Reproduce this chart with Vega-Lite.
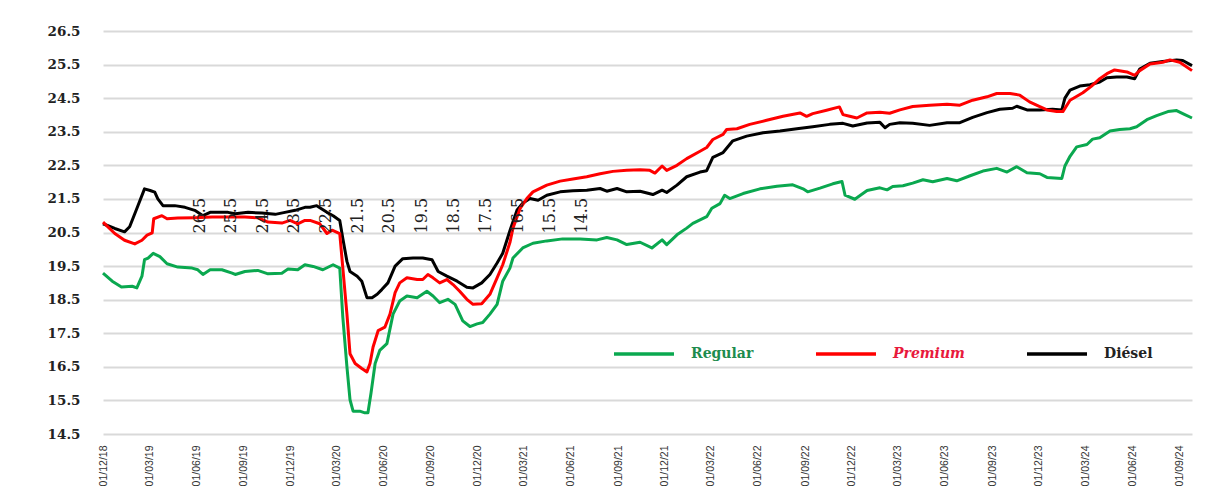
{
  "$schema": "https://vega.github.io/schema/vega-lite/v6.json",
  "width": 1089,
  "height": 403,
  "autosize": "none",
  "padding": {"left": 103, "top": 31, "right": 23, "bottom": 59},
  "background": "#ffffff",
  "config": {"view": {"stroke": null}},
  "datasets": {
    "precios": [
      {"f":"2018-12-01","s":"Diésel","v":20.76},{"f":"2018-12-24","s":"Diésel","v":20.62},{"f":"2019-01-12","s":"Diésel","v":20.52},{"f":"2019-01-22","s":"Diésel","v":20.67},{"f":"2019-02-06","s":"Diésel","v":21.25},{"f":"2019-02-20","s":"Diésel","v":21.8},{"f":"2019-03-03","s":"Diésel","v":21.75},{"f":"2019-03-12","s":"Diésel","v":21.7},{"f":"2019-03-18","s":"Diésel","v":21.5},{"f":"2019-03-28","s":"Diésel","v":21.3},{"f":"2019-04-20","s":"Diésel","v":21.3},{"f":"2019-05-10","s":"Diésel","v":21.25},{"f":"2019-05-29","s":"Diésel","v":21.16},{"f":"2019-06-14","s":"Diésel","v":21.0},{"f":"2019-06-28","s":"Diésel","v":21.1},{"f":"2019-08-02","s":"Diésel","v":21.1},{"f":"2019-08-16","s":"Diésel","v":21.06},{"f":"2019-09-10","s":"Diésel","v":21.1},{"f":"2019-10-07","s":"Diésel","v":21.08},{"f":"2019-11-02","s":"Diésel","v":21.04},{"f":"2019-11-21","s":"Diésel","v":21.1},{"f":"2019-12-11","s":"Diésel","v":21.16},{"f":"2019-12-30","s":"Diésel","v":21.25},{"f":"2020-01-09","s":"Diésel","v":21.25},{"f":"2020-01-22","s":"Diésel","v":21.3},{"f":"2020-02-01","s":"Diésel","v":21.2},{"f":"2020-02-11","s":"Diésel","v":21.1},{"f":"2020-02-23","s":"Diésel","v":21.0},{"f":"2020-03-07","s":"Diésel","v":20.86},{"f":"2020-03-13","s":"Diésel","v":20.32},{"f":"2020-03-21","s":"Diésel","v":19.64},{"f":"2020-03-27","s":"Diésel","v":19.34},{"f":"2020-04-10","s":"Diésel","v":19.2},{"f":"2020-04-19","s":"Diésel","v":19.05},{"f":"2020-04-29","s":"Diésel","v":18.56},{"f":"2020-05-09","s":"Diésel","v":18.56},{"f":"2020-05-19","s":"Diésel","v":18.66},{"f":"2020-05-28","s":"Diésel","v":18.8},{"f":"2020-06-09","s":"Diésel","v":19.0},{"f":"2020-06-23","s":"Diésel","v":19.5},{"f":"2020-07-08","s":"Diésel","v":19.72},{"f":"2020-07-28","s":"Diésel","v":19.74},{"f":"2020-08-16","s":"Diésel","v":19.74},{"f":"2020-09-03","s":"Diésel","v":19.69},{"f":"2020-09-15","s":"Diésel","v":19.34},{"f":"2020-10-02","s":"Diésel","v":19.2},{"f":"2020-10-22","s":"Diésel","v":19.05},{"f":"2020-11-10","s":"Diésel","v":18.87},{"f":"2020-11-22","s":"Diésel","v":18.85},{"f":"2020-12-09","s":"Diésel","v":19.0},{"f":"2020-12-25","s":"Diésel","v":19.25},{"f":"2021-01-08","s":"Diésel","v":19.59},{"f":"2021-01-19","s":"Diésel","v":19.88},{"f":"2021-02-02","s":"Diésel","v":20.55},{"f":"2021-02-16","s":"Diésel","v":21.17},{"f":"2021-02-27","s":"Diésel","v":21.37},{"f":"2021-03-13","s":"Diésel","v":21.51},{"f":"2021-03-29","s":"Diésel","v":21.46},{"f":"2021-04-15","s":"Diésel","v":21.61},{"f":"2021-05-11","s":"Diésel","v":21.71},{"f":"2021-06-05","s":"Diésel","v":21.74},{"f":"2021-07-02","s":"Diésel","v":21.76},{"f":"2021-07-28","s":"Diésel","v":21.81},{"f":"2021-08-10","s":"Diésel","v":21.73},{"f":"2021-08-30","s":"Diésel","v":21.81},{"f":"2021-09-18","s":"Diésel","v":21.71},{"f":"2021-10-14","s":"Diésel","v":21.73},{"f":"2021-11-08","s":"Diésel","v":21.63},{"f":"2021-11-26","s":"Diésel","v":21.76},{"f":"2021-12-05","s":"Diésel","v":21.69},{"f":"2021-12-25","s":"Diésel","v":21.91},{"f":"2022-01-13","s":"Diésel","v":22.16},{"f":"2022-02-08","s":"Diésel","v":22.3},{"f":"2022-02-21","s":"Diésel","v":22.34},{"f":"2022-03-05","s":"Diésel","v":22.74},{"f":"2022-03-25","s":"Diésel","v":22.88},{"f":"2022-04-13","s":"Diésel","v":23.23},{"f":"2022-05-10","s":"Diésel","v":23.37},{"f":"2022-06-11","s":"Diésel","v":23.47},{"f":"2022-07-14","s":"Diésel","v":23.52},{"f":"2022-08-16","s":"Diésel","v":23.59},{"f":"2022-09-16","s":"Diésel","v":23.65},{"f":"2022-10-19","s":"Diésel","v":23.72},{"f":"2022-11-14","s":"Diésel","v":23.75},{"f":"2022-12-03","s":"Diésel","v":23.67},{"f":"2022-12-31","s":"Diésel","v":23.76},{"f":"2023-01-25","s":"Diésel","v":23.78},{"f":"2023-02-04","s":"Diésel","v":23.62},{"f":"2023-02-13","s":"Diésel","v":23.72},{"f":"2023-03-05","s":"Diésel","v":23.77},{"f":"2023-03-30","s":"Diésel","v":23.75},{"f":"2023-05-02","s":"Diésel","v":23.69},{"f":"2023-06-05","s":"Diésel","v":23.77},{"f":"2023-06-30","s":"Diésel","v":23.77},{"f":"2023-07-25","s":"Diésel","v":23.93},{"f":"2023-08-22","s":"Diésel","v":24.07},{"f":"2023-09-16","s":"Diésel","v":24.17},{"f":"2023-10-11","s":"Diésel","v":24.2},{"f":"2023-10-19","s":"Diésel","v":24.26},{"f":"2023-11-08","s":"Diésel","v":24.15},{"f":"2023-12-03","s":"Diésel","v":24.15},{"f":"2023-12-28","s":"Diésel","v":24.17},{"f":"2024-01-15","s":"Diésel","v":24.15},{"f":"2024-01-21","s":"Diésel","v":24.5},{"f":"2024-01-31","s":"Diésel","v":24.74},{"f":"2024-02-19","s":"Diésel","v":24.86},{"f":"2024-03-10","s":"Diésel","v":24.9},{"f":"2024-03-29","s":"Diésel","v":24.98},{"f":"2024-04-12","s":"Diésel","v":25.11},{"f":"2024-05-01","s":"Diésel","v":25.13},{"f":"2024-05-21","s":"Diésel","v":25.13},{"f":"2024-06-05","s":"Diésel","v":25.08},{"f":"2024-06-15","s":"Diésel","v":25.37},{"f":"2024-07-05","s":"Diésel","v":25.54},{"f":"2024-07-30","s":"Diésel","v":25.59},{"f":"2024-08-26","s":"Diésel","v":25.64},{"f":"2024-09-07","s":"Diésel","v":25.62},{"f":"2024-09-25","s":"Diésel","v":25.47},
      {"f":"2018-12-01","s":"Premium","v":20.81},{"f":"2018-12-24","s":"Premium","v":20.47},{"f":"2019-01-12","s":"Premium","v":20.27},{"f":"2019-02-01","s":"Premium","v":20.16},{"f":"2019-02-15","s":"Premium","v":20.27},{"f":"2019-02-25","s":"Premium","v":20.42},{"f":"2019-03-07","s":"Premium","v":20.49},{"f":"2019-03-10","s":"Premium","v":20.91},{"f":"2019-03-26","s":"Premium","v":21.0},{"f":"2019-04-05","s":"Premium","v":20.91},{"f":"2019-04-26","s":"Premium","v":20.93},{"f":"2019-05-29","s":"Premium","v":20.94},{"f":"2019-07-02","s":"Premium","v":20.96},{"f":"2019-08-02","s":"Premium","v":20.96},{"f":"2019-09-04","s":"Premium","v":20.96},{"f":"2019-09-29","s":"Premium","v":20.94},{"f":"2019-10-19","s":"Premium","v":20.81},{"f":"2019-11-15","s":"Premium","v":20.78},{"f":"2019-12-01","s":"Premium","v":20.86},{"f":"2019-12-16","s":"Premium","v":20.76},{"f":"2019-12-30","s":"Premium","v":20.86},{"f":"2020-01-09","s":"Premium","v":20.86},{"f":"2020-01-28","s":"Premium","v":20.76},{"f":"2020-02-11","s":"Premium","v":20.47},{"f":"2020-02-21","s":"Premium","v":20.57},{"f":"2020-03-07","s":"Premium","v":20.47},{"f":"2020-03-13","s":"Premium","v":19.44},{"f":"2020-03-21","s":"Premium","v":18.07},{"f":"2020-03-27","s":"Premium","v":16.89},{"f":"2020-04-06","s":"Premium","v":16.6},{"f":"2020-04-19","s":"Premium","v":16.45},{"f":"2020-04-29","s":"Premium","v":16.35},{"f":"2020-05-05","s":"Premium","v":16.6},{"f":"2020-05-11","s":"Premium","v":17.09},{"f":"2020-05-21","s":"Premium","v":17.58},{"f":"2020-06-03","s":"Premium","v":17.68},{"f":"2020-06-13","s":"Premium","v":18.07},{"f":"2020-06-23","s":"Premium","v":18.71},{"f":"2020-07-02","s":"Premium","v":19.0},{"f":"2020-07-16","s":"Premium","v":19.15},{"f":"2020-08-05","s":"Premium","v":19.1},{"f":"2020-08-16","s":"Premium","v":19.1},{"f":"2020-08-26","s":"Premium","v":19.25},{"f":"2020-09-05","s":"Premium","v":19.15},{"f":"2020-09-18","s":"Premium","v":19.0},{"f":"2020-10-02","s":"Premium","v":19.1},{"f":"2020-10-14","s":"Premium","v":18.95},{"f":"2020-10-27","s":"Premium","v":18.75},{"f":"2020-11-10","s":"Premium","v":18.51},{"f":"2020-11-22","s":"Premium","v":18.36},{"f":"2020-12-09","s":"Premium","v":18.38},{"f":"2020-12-25","s":"Premium","v":18.66},{"f":"2021-01-08","s":"Premium","v":19.15},{"f":"2021-01-19","s":"Premium","v":19.54},{"f":"2021-02-02","s":"Premium","v":20.2},{"f":"2021-02-08","s":"Premium","v":20.63},{"f":"2021-02-22","s":"Premium","v":21.22},{"f":"2021-03-07","s":"Premium","v":21.51},{"f":"2021-03-19","s":"Premium","v":21.71},{"f":"2021-04-15","s":"Premium","v":21.91},{"f":"2021-05-11","s":"Premium","v":22.03},{"f":"2021-06-05","s":"Premium","v":22.09},{"f":"2021-07-02","s":"Premium","v":22.16},{"f":"2021-07-28","s":"Premium","v":22.25},{"f":"2021-08-22","s":"Premium","v":22.32},{"f":"2021-09-18","s":"Premium","v":22.35},{"f":"2021-10-14","s":"Premium","v":22.37},{"f":"2021-11-02","s":"Premium","v":22.35},{"f":"2021-11-12","s":"Premium","v":22.27},{"f":"2021-11-26","s":"Premium","v":22.48},{"f":"2021-12-05","s":"Premium","v":22.35},{"f":"2021-12-25","s":"Premium","v":22.5},{"f":"2022-01-13","s":"Premium","v":22.7},{"f":"2022-02-08","s":"Premium","v":22.92},{"f":"2022-02-21","s":"Premium","v":23.03},{"f":"2022-03-05","s":"Premium","v":23.27},{"f":"2022-03-25","s":"Premium","v":23.42},{"f":"2022-04-01","s":"Premium","v":23.57},{"f":"2022-04-21","s":"Premium","v":23.59},{"f":"2022-05-16","s":"Premium","v":23.72},{"f":"2022-06-18","s":"Premium","v":23.84},{"f":"2022-07-20","s":"Premium","v":23.96},{"f":"2022-08-22","s":"Premium","v":24.06},{"f":"2022-09-04","s":"Premium","v":23.96},{"f":"2022-09-16","s":"Premium","v":24.04},{"f":"2022-10-13","s":"Premium","v":24.14},{"f":"2022-11-07","s":"Premium","v":24.24},{"f":"2022-11-14","s":"Premium","v":24.01},{"f":"2022-11-27","s":"Premium","v":23.96},{"f":"2022-12-11","s":"Premium","v":23.91},{"f":"2022-12-31","s":"Premium","v":24.06},{"f":"2023-01-25","s":"Premium","v":24.08},{"f":"2023-02-13","s":"Premium","v":24.05},{"f":"2023-03-05","s":"Premium","v":24.15},{"f":"2023-03-30","s":"Premium","v":24.25},{"f":"2023-05-02","s":"Premium","v":24.29},{"f":"2023-06-05","s":"Premium","v":24.32},{"f":"2023-06-30","s":"Premium","v":24.29},{"f":"2023-07-25","s":"Premium","v":24.44},{"f":"2023-08-22","s":"Premium","v":24.54},{"f":"2023-09-10","s":"Premium","v":24.64},{"f":"2023-10-06","s":"Premium","v":24.64},{"f":"2023-10-25","s":"Premium","v":24.59},{"f":"2023-11-13","s":"Premium","v":24.39},{"f":"2023-12-03","s":"Premium","v":24.25},{"f":"2023-12-17","s":"Premium","v":24.15},{"f":"2024-01-05","s":"Premium","v":24.1},{"f":"2024-01-17","s":"Premium","v":24.1},{"f":"2024-01-31","s":"Premium","v":24.44},{"f":"2024-02-25","s":"Premium","v":24.66},{"f":"2024-03-13","s":"Premium","v":24.86},{"f":"2024-03-29","s":"Premium","v":25.08},{"f":"2024-04-12","s":"Premium","v":25.23},{"f":"2024-04-27","s":"Premium","v":25.34},{"f":"2024-05-21","s":"Premium","v":25.28},{"f":"2024-06-05","s":"Premium","v":25.18},{"f":"2024-06-15","s":"Premium","v":25.32},{"f":"2024-07-05","s":"Premium","v":25.52},{"f":"2024-07-30","s":"Premium","v":25.57},{"f":"2024-08-13","s":"Premium","v":25.64},{"f":"2024-09-01","s":"Premium","v":25.57},{"f":"2024-09-25","s":"Premium","v":25.32},
      {"f":"2018-12-01","s":"Regular","v":19.29},{"f":"2018-12-19","s":"Regular","v":19.05},{"f":"2019-01-06","s":"Regular","v":18.88},{"f":"2019-01-27","s":"Regular","v":18.9},{"f":"2019-02-05","s":"Regular","v":18.85},{"f":"2019-02-15","s":"Regular","v":19.2},{"f":"2019-02-20","s":"Regular","v":19.69},{"f":"2019-02-27","s":"Regular","v":19.74},{"f":"2019-03-09","s":"Regular","v":19.88},{"f":"2019-03-22","s":"Regular","v":19.78},{"f":"2019-04-05","s":"Regular","v":19.57},{"f":"2019-04-26","s":"Regular","v":19.47},{"f":"2019-05-24","s":"Regular","v":19.44},{"f":"2019-06-04","s":"Regular","v":19.39},{"f":"2019-06-14","s":"Regular","v":19.25},{"f":"2019-06-28","s":"Regular","v":19.39},{"f":"2019-07-21","s":"Regular","v":19.39},{"f":"2019-08-10","s":"Regular","v":19.29},{"f":"2019-08-16","s":"Regular","v":19.25},{"f":"2019-09-04","s":"Regular","v":19.34},{"f":"2019-09-29","s":"Regular","v":19.37},{"f":"2019-10-19","s":"Regular","v":19.27},{"f":"2019-11-15","s":"Regular","v":19.29},{"f":"2019-11-27","s":"Regular","v":19.41},{"f":"2019-12-16","s":"Regular","v":19.39},{"f":"2019-12-30","s":"Regular","v":19.54},{"f":"2020-01-15","s":"Regular","v":19.49},{"f":"2020-02-03","s":"Regular","v":19.39},{"f":"2020-02-23","s":"Regular","v":19.54},{"f":"2020-03-07","s":"Regular","v":19.44},{"f":"2020-03-13","s":"Regular","v":17.97},{"f":"2020-03-21","s":"Regular","v":16.5},{"f":"2020-03-27","s":"Regular","v":15.52},{"f":"2020-04-02","s":"Regular","v":15.18},{"f":"2020-04-15","s":"Regular","v":15.18},{"f":"2020-04-25","s":"Regular","v":15.13},{"f":"2020-05-01","s":"Regular","v":15.13},{"f":"2020-05-07","s":"Regular","v":15.72},{"f":"2020-05-15","s":"Regular","v":16.6},{"f":"2020-05-24","s":"Regular","v":16.99},{"f":"2020-06-07","s":"Regular","v":17.19},{"f":"2020-06-19","s":"Regular","v":18.07},{"f":"2020-07-02","s":"Regular","v":18.46},{"f":"2020-07-16","s":"Regular","v":18.61},{"f":"2020-08-05","s":"Regular","v":18.56},{"f":"2020-08-24","s":"Regular","v":18.75},{"f":"2020-09-05","s":"Regular","v":18.61},{"f":"2020-09-18","s":"Regular","v":18.41},{"f":"2020-10-04","s":"Regular","v":18.51},{"f":"2020-10-18","s":"Regular","v":18.36},{"f":"2020-11-02","s":"Regular","v":17.87},{"f":"2020-11-16","s":"Regular","v":17.7},{"f":"2020-11-30","s":"Regular","v":17.78},{"f":"2020-12-11","s":"Regular","v":17.82},{"f":"2020-12-25","s":"Regular","v":18.07},{"f":"2021-01-08","s":"Regular","v":18.36},{"f":"2021-01-19","s":"Regular","v":19.05},{"f":"2021-02-02","s":"Regular","v":19.44},{"f":"2021-02-08","s":"Regular","v":19.74},{"f":"2021-02-27","s":"Regular","v":20.04},{"f":"2021-03-19","s":"Regular","v":20.18},{"f":"2021-04-15","s":"Regular","v":20.25},{"f":"2021-05-16","s":"Regular","v":20.31},{"f":"2021-06-19","s":"Regular","v":20.31},{"f":"2021-07-22","s":"Regular","v":20.28},{"f":"2021-08-10","s":"Regular","v":20.35},{"f":"2021-08-30","s":"Regular","v":20.28},{"f":"2021-09-18","s":"Regular","v":20.14},{"f":"2021-10-14","s":"Regular","v":20.21},{"f":"2021-11-06","s":"Regular","v":20.04},{"f":"2021-11-26","s":"Regular","v":20.28},{"f":"2021-12-05","s":"Regular","v":20.14},{"f":"2021-12-25","s":"Regular","v":20.43},{"f":"2022-01-13","s":"Regular","v":20.63},{"f":"2022-01-25","s":"Regular","v":20.77},{"f":"2022-02-21","s":"Regular","v":20.97},{"f":"2022-03-03","s":"Regular","v":21.22},{"f":"2022-03-19","s":"Regular","v":21.36},{"f":"2022-03-28","s":"Regular","v":21.61},{"f":"2022-04-07","s":"Regular","v":21.51},{"f":"2022-05-03","s":"Regular","v":21.66},{"f":"2022-06-05","s":"Regular","v":21.8},{"f":"2022-07-08","s":"Regular","v":21.88},{"f":"2022-08-08","s":"Regular","v":21.92},{"f":"2022-08-28","s":"Regular","v":21.8},{"f":"2022-09-06","s":"Regular","v":21.71},{"f":"2022-09-30","s":"Regular","v":21.82},{"f":"2022-10-25","s":"Regular","v":21.95},{"f":"2022-11-12","s":"Regular","v":22.02},{"f":"2022-11-18","s":"Regular","v":21.61},{"f":"2022-12-07","s":"Regular","v":21.49},{"f":"2022-12-31","s":"Regular","v":21.75},{"f":"2023-01-25","s":"Regular","v":21.83},{"f":"2023-02-08","s":"Regular","v":21.77},{"f":"2023-02-19","s":"Regular","v":21.87},{"f":"2023-03-11","s":"Regular","v":21.89},{"f":"2023-03-30","s":"Regular","v":21.97},{"f":"2023-04-19","s":"Regular","v":22.07},{"f":"2023-05-08","s":"Regular","v":22.01},{"f":"2023-06-05","s":"Regular","v":22.11},{"f":"2023-06-24","s":"Regular","v":22.04},{"f":"2023-07-20","s":"Regular","v":22.19},{"f":"2023-08-14","s":"Regular","v":22.33},{"f":"2023-09-10","s":"Regular","v":22.41},{"f":"2023-09-30","s":"Regular","v":22.3},{"f":"2023-10-19","s":"Regular","v":22.46},{"f":"2023-11-08","s":"Regular","v":22.28},{"f":"2023-12-03","s":"Regular","v":22.25},{"f":"2023-12-17","s":"Regular","v":22.14},{"f":"2024-01-15","s":"Regular","v":22.11},{"f":"2024-01-21","s":"Regular","v":22.48},{"f":"2024-01-31","s":"Regular","v":22.77},{"f":"2024-02-13","s":"Regular","v":23.05},{"f":"2024-03-04","s":"Regular","v":23.12},{"f":"2024-03-15","s":"Regular","v":23.28},{"f":"2024-03-29","s":"Regular","v":23.32},{"f":"2024-04-18","s":"Regular","v":23.52},{"f":"2024-05-07","s":"Regular","v":23.57},{"f":"2024-05-27","s":"Regular","v":23.59},{"f":"2024-06-09","s":"Regular","v":23.65},{"f":"2024-06-29","s":"Regular","v":23.86},{"f":"2024-07-18","s":"Regular","v":23.98},{"f":"2024-08-09","s":"Regular","v":24.1},{"f":"2024-08-26","s":"Regular","v":24.13},{"f":"2024-09-07","s":"Regular","v":24.04},{"f":"2024-09-25","s":"Regular","v":23.91}
    ],
    "etiquetas": [
      {"f":"2019-06-08","v":21.0,"t":"26.5"},{"f":"2019-08-08","v":21.0,"t":"25.5"},{"f":"2019-10-09","v":21.0,"t":"24.5"},{"f":"2019-12-09","v":21.0,"t":"23.5"},{"f":"2020-02-09","v":21.0,"t":"22.5"},{"f":"2020-04-11","v":21.0,"t":"21.5"},{"f":"2020-06-11","v":21.0,"t":"20.5"},{"f":"2020-08-14","v":21.0,"t":"19.5"},{"f":"2020-10-16","v":21.0,"t":"18.5"},{"f":"2020-12-17","v":21.0,"t":"17.5"},{"f":"2021-02-18","v":21.0,"t":"16.5"},{"f":"2021-04-21","v":21.0,"t":"15.5"},{"f":"2021-06-23","v":21.0,"t":"14.5"}
    ]
  },
  "encoding": {
    "x": {
      "field": "f", "type": "temporal",
      "scale": {"type": "utc", "domain": [{"year":2018,"month":12,"date":1,"utc":true},{"year":2024,"month":9,"date":25,"utc":true}]},
      "axis": {
        "title": null, "format": "%d/%m/%y", "labelAngle": 270, "grid": false, "ticks": false, "domain": false,
        "labelPadding": 11, "labelFont": "Liberation Sans", "labelFontSize": 10.5, "labelColor": "#333333", "labelOverlap": false,
        "values": [
          {"year":2018,"month":12,"date":1,"utc":true},{"year":2019,"month":3,"date":1,"utc":true},{"year":2019,"month":6,"date":1,"utc":true},{"year":2019,"month":9,"date":1,"utc":true},{"year":2019,"month":12,"date":1,"utc":true},
          {"year":2020,"month":3,"date":1,"utc":true},{"year":2020,"month":6,"date":1,"utc":true},{"year":2020,"month":9,"date":1,"utc":true},{"year":2020,"month":12,"date":1,"utc":true},
          {"year":2021,"month":3,"date":1,"utc":true},{"year":2021,"month":6,"date":1,"utc":true},{"year":2021,"month":9,"date":1,"utc":true},{"year":2021,"month":12,"date":1,"utc":true},
          {"year":2022,"month":3,"date":1,"utc":true},{"year":2022,"month":6,"date":1,"utc":true},{"year":2022,"month":9,"date":1,"utc":true},{"year":2022,"month":12,"date":1,"utc":true},
          {"year":2023,"month":3,"date":1,"utc":true},{"year":2023,"month":6,"date":1,"utc":true},{"year":2023,"month":9,"date":1,"utc":true},{"year":2023,"month":12,"date":1,"utc":true},
          {"year":2024,"month":3,"date":1,"utc":true},{"year":2024,"month":6,"date":1,"utc":true},{"year":2024,"month":9,"date":1,"utc":true}
        ]
      }
    },
    "y": {
      "field": "v", "type": "quantitative",
      "scale": {"domain": [14.5, 26.5], "zero": false, "nice": false},
      "axis": {
        "title": null, "values": [14.5,15.5,16.5,17.5,18.5,19.5,20.5,21.5,22.5,23.5,24.5,25.5,26.5], "format": ".1f",
        "labelOverlap": false, "tickCount": 13,
        "domain": false, "ticks": false, "gridColor": "#d9d9d9", "gridWidth": 2, "labelPadding": 23,
        "labelFont": "DejaVu Serif", "labelFontWeight": "bold", "labelFontSize": 13.5, "labelColor": "#222222"
      }
    }
  },
  "layer": [
    {
      "data": {"name": "precios"},
      "mark": {"type": "line", "strokeWidth": 3, "strokeJoin": "round"},
      "encoding": {
        "color": {
          "field": "s", "type": "nominal",
          "scale": {"domain": ["Regular", "Premium", "Diésel"], "range": ["#0aa84f", "#ff0000", "#000000"]},
          "legend": {
            "title": null, "orient": "none", "legendX": 509, "legendY": 291, "direction": "horizontal", "columns": 3,
            "gridAlign": "none", "columnPadding": 55, "padding": 0, "symbolType": "stroke", "symbolSize": 3600,
            "symbolStrokeWidth": 3.5, "labelOffset": 15, "labelFont": "DejaVu Serif", "labelFontWeight": "bold",
            "labelFontSize": 14, "labelLimit": 0,
            "encode": {
              "labels": {
                "update": {
                  "fill": {"signal": "datum.label === 'Regular' ? '#1e8c4e' : datum.label === 'Premium' ? '#e8193c' : '#222222'"},
                  "fontStyle": {"signal": "datum.label === 'Premium' ? 'italic' : 'normal'"}
                }
              }
            }
          }
        }
      }
    },
    {
      "data": {"name": "etiquetas"},
      "mark": {"type": "text", "angle": 270, "align": "center", "baseline": "middle", "font": "DejaVu Serif", "fontSize": 16, "color": "#222222"},
      "encoding": {
        "text": {"field": "t"}
      }
    }
  ]
}
